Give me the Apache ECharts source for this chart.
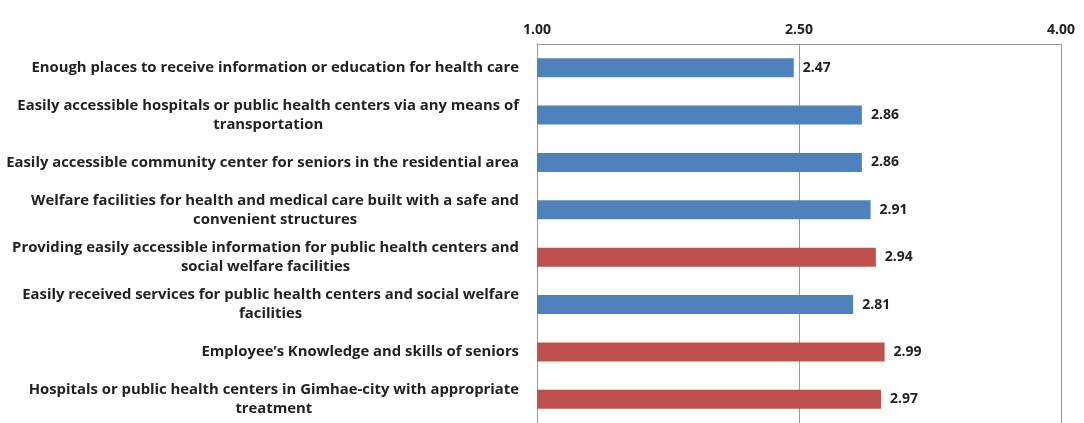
<!DOCTYPE html>
<html>
<head>
<meta charset="utf-8">
<script src="https://cdn.jsdelivr.net/npm/echarts@6/dist/echarts.min.js"></script>
<style>
  html, body { margin: 0; padding: 0; background: #fff; }
  #chart { width: 1084px; height: 423px; }
</style>
</head>
<body>
<div id="chart"></div>
<script>
// Survey items (top to bottom), line breaks as printed
const categories = [
  'Enough places to receive information or education for health care',
  'Easily accessible hospitals or public health centers via any means of\ntransportation',
  'Easily accessible community center for seniors in the residential area',
  'Welfare facilities for health and medical care built with a safe and\nconvenient structures',
  'Providing easily accessible information for public health centers and\nsocial welfare facilities',
  'Easily received services for public health centers and social welfare\nfacilities',
  'Employee\u2019s Knowledge and skills of seniors',
  'Hospitals or public health centers in Gimhae-city with appropriate\ntreatment'
];
// Mean scores
const scores = [2.47, 2.86, 2.86, 2.91, 2.94, 2.81, 2.99, 2.97];
// Items drawn in the accent colour
const accented = [false, false, false, false, true, false, true, true];
// Scale ticks
const tickValues = [1.0, 2.5, 4.0];

const BLUE = '#4F81BD';
const RED = '#C0504D';
const FONT = '"Open Sans", Lato, sans-serif';

const chart = echarts.init(document.getElementById('chart'), null, { renderer: 'canvas' });

chart.setOption({
  animation: false,
  grid: { left: 537, right: 23, top: 44, bottom: -3, containLabel: false },
  xAxis: {
    type: 'value',
    position: 'top',
    min: tickValues[0],
    max: tickValues[tickValues.length - 1],
    interval: tickValues[1] - tickValues[0],
    axisLine: { show: true, lineStyle: { color: '#9a9a9a', width: 1 } },
    axisTick: { show: false },
    axisLabel: {
      margin: 7,
      fontFamily: FONT,
      fontWeight: 'bold',
      fontSize: 14,
      color: '#222',
      formatter: v => v.toFixed(2)
    },
    splitLine: { show: true, lineStyle: { color: '#9a9a9a', width: 1 } }
  },
  yAxis: {
    type: 'category',
    inverse: true,
    data: categories,
    axisLine: { show: true, lineStyle: { color: '#9a9a9a', width: 1 } },
    axisTick: { show: false },
    axisLabel: {
      margin: 18,
      align: 'right',
      formatter: v => v.split('\n').map(s => '{c|' + s + '}').join('\n'),
      rich: {
        c: {
          align: 'center',
          fontFamily: FONT,
          fontWeight: 'bold',
          fontSize: 14.85,
          lineHeight: 19,
          color: '#222'
        }
      }
    }
  },
  series: [{
    type: 'bar',
    barWidth: 19,
    data: scores.map((v, i) => ({
      value: v,
      itemStyle: { color: accented[i] ? RED : BLUE }
    })),
    label: {
      show: true,
      position: 'right',
      distance: 9,
      fontFamily: FONT,
      fontWeight: 'bold',
      fontSize: 14,
      color: '#222',
      formatter: p => p.value.toFixed(2)
    }
  }]
});
</script>
</body>
</html>
